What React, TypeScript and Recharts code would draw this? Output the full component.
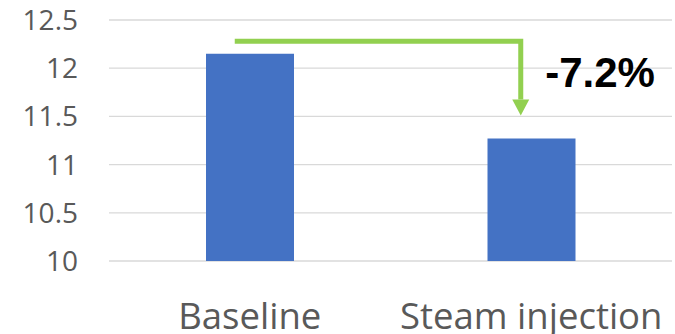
import { BarChart, Bar, XAxis, YAxis, CartesianGrid, ReferenceLine } from "recharts"

const categories = ["Baseline", "Steam injection"]
const values = [12.15, 11.27]
const yTicks = [10, 10.5, 11, 11.5, 12, 12.5]

// arrow runs from above the first bar down to just above the second one
const arrowFrom = 12.28
const arrowTo = 11.51

const chartData = categories.map((name, i) => ({ name, value: values[i] }))
const change = ((values[1] / values[0]) - 1) * 100

const font = "'Open Sans', 'Noto Sans', sans-serif"

function XTick({ x, y, payload }: any) {
  return (
    <text x={x} y={y + 68} textAnchor="middle" fill="#595959" fontSize={36.5} fontFamily={font}>
      {payload.value}
    </text>
  )
}

function YTick({ x, y, payload }: any) {
  return (
    <text x={x} y={y} dy="0.355em" textAnchor="end" fill="#595959" fontSize={28} fontFamily={font}>
      {String(payload.value)}
    </text>
  )
}

function ChangeArrow({ x1, y1, x2, y2 }: any) {
  const left = x1 - 15
  const right = x2 - 10.5
  const headH = 16
  const headW = 8.5
  return (
    <g>
      <path
        d={`M${left},${y1} H${right} V${y2 - headH}`}
        fill="none"
        stroke="#92D050"
        strokeWidth={5}
        strokeLinejoin="miter"
      />
      <path
        d={`M${right - headW},${y2 - headH} L${right + headW},${y2 - headH} L${right},${y2} Z`}
        fill="#92D050"
      />
      <text
        x={x2 + 14}
        y={y1 + 46}
        fill="#000"
        fontSize={42}
        fontWeight="bold"
        fontFamily="'Liberation Sans', Arial, sans-serif"
      >
        {`${change.toFixed(1)}%`}
      </text>
    </g>
  )
}

export default function App() {
  return (
    <div style={{ position: "absolute", left: 0, top: 0, background: "#fff" }}>
      <BarChart
        width={675}
        height={334}
        data={chartData}
        margin={{ top: 20, right: 3, left: 0, bottom: 0 }}
        barCategoryGap={0}
      >
        <CartesianGrid vertical={false} stroke="#d9d9d9" strokeWidth={1.3} />
        <XAxis
          dataKey="name"
          height={73}
          axisLine={false}
          tickLine={false}
          tickSize={0}
          tickMargin={0}
          tick={<XTick />}
          interval={0}
        />
        <YAxis
          type="number"
          domain={[10, 12.5]}
          ticks={yTicks}
          width={109}
          axisLine={false}
          tickLine={false}
          tickSize={0}
          tickMargin={31}
          tick={<YTick />}
          allowDataOverflow
        />
        <Bar dataKey="value" fill="#4472C4" barSize={88} isAnimationActive={false} />
        <ReferenceLine
          segment={[
            { x: categories[0], y: arrowFrom },
            { x: categories[1], y: arrowTo },
          ]}
          shape={(props: any) => <ChangeArrow {...props} />}
        />
      </BarChart>
    </div>
  )
}
